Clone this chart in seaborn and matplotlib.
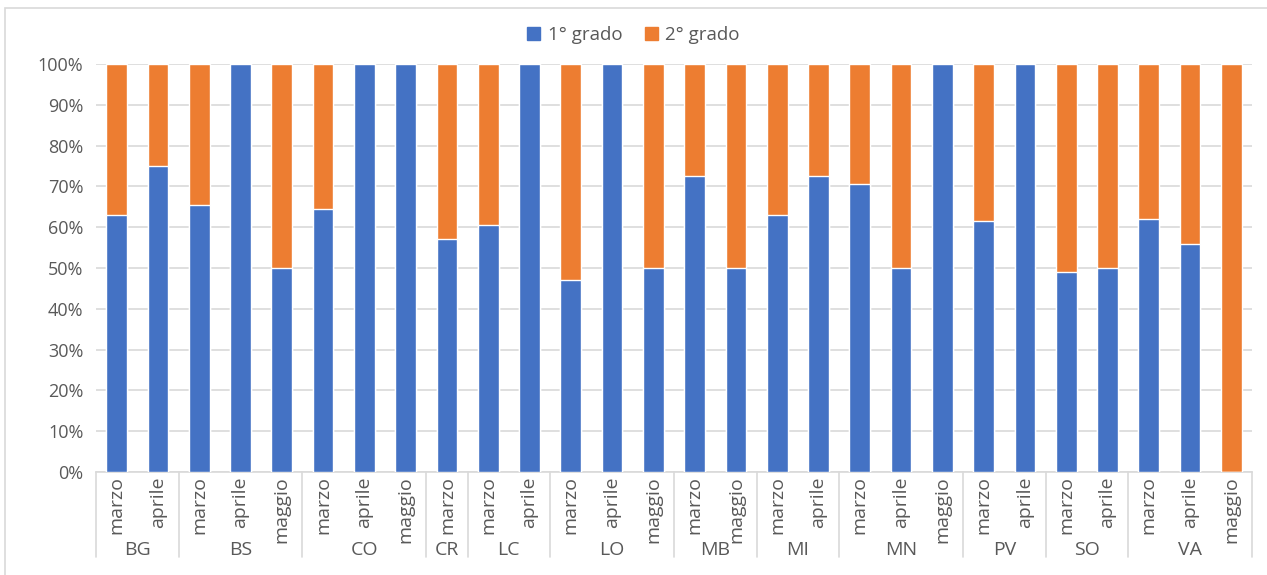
import matplotlib
matplotlib.use("Agg")
import matplotlib.pyplot as plt
import matplotlib.transforms as mtransforms
from matplotlib.patches import Rectangle, Patch
from matplotlib.ticker import PercentFormatter
import seaborn as sns
import pandas as pd
import numpy as np

groups = ["BG", "BS", "CO", "CR", "LC", "LO", "MB", "MI", "MN", "PV", "SO", "VA"]
months = [
    ["marzo", "aprile"],
    ["marzo", "aprile", "maggio"],
    ["marzo", "aprile", "maggio"],
    ["marzo"],
    ["marzo", "aprile"],
    ["marzo", "aprile", "maggio"],
    ["marzo", "maggio"],
    ["marzo", "aprile"],
    ["marzo", "aprile", "maggio"],
    ["marzo", "aprile"],
    ["marzo", "aprile"],
    ["marzo", "aprile", "maggio"],
]
grado1 = [63, 75, 65.5, 100, 50, 64.5, 100, 100, 57, 60.5, 100, 47, 100, 50,
          72.5, 50, 63, 72.5, 70.5, 50, 100, 61.5, 100, 49, 50, 62, 56, 0]
grado2 = [37, 25, 34.5, 0, 50, 35.5, 0, 0, 43, 39.5, 0, 53, 0, 50,
          27.5, 50, 37, 27.5, 29.5, 50, 0, 38.5, 0, 51, 50, 38, 44, 100]

blue = "#4472C4"
orange = "#ED7D31"
txt = "#595959"
grid = "#D9D9D9"

rows = []
for g, ms in zip(groups, months):
    for m in ms:
        rows.append((g, m))
df = pd.DataFrame(rows, columns=["group", "month"])
df["key"] = [f"{g}_{m}" for g, m in rows]
df["g1"] = np.array(grado1) / 100.0
df["g2"] = np.array(grado2) / 100.0
df["total"] = df["g1"] + df["g2"]
order = list(df["key"])

sns.set_theme(style="white")
plt.rcParams["font.family"] = ["Open Sans", "DejaVu Sans"]

fig = plt.figure(figsize=(12.67, 5.75), dpi=100)
ax = fig.add_axes([96 / 1267, 1 - 472 / 575, (1252 - 96) / 1267, (472 - 64) / 575])

sns.barplot(data=df, x="key", y="total", order=order, color=orange,
            width=0.5, saturation=1, ax=ax, zorder=3, legend=False)
sns.barplot(data=df, x="key", y="g1", order=order, color=blue,
            width=0.5, saturation=1, ax=ax, zorder=4, legend=False)
if ax.get_legend() is not None:
    ax.get_legend().remove()

ax.set_ylim(0, 1)
ax.set_xlim(-0.5, len(order) - 0.5)
ax.yaxis.set_major_locator(matplotlib.ticker.MultipleLocator(0.1))
ax.yaxis.set_major_formatter(PercentFormatter(1.0, decimals=0))
ax.grid(axis="y", color=grid, linewidth=1.2, zorder=0)
ax.set_axisbelow(True)
for s in ["top", "right", "left"]:
    ax.spines[s].set_visible(False)
ax.spines["bottom"].set_color(grid)
ax.spines["bottom"].set_linewidth(1.2)
ax.set_xlabel("")
ax.set_ylabel("")
ax.tick_params(axis="y", length=0, labelsize=13, labelcolor=txt, pad=9)
ax.set_xticks(range(len(order)))
ax.set_xticklabels(df["month"], rotation=90, fontsize=14, color=txt)
ax.tick_params(axis="x", length=0, pad=3)

trans = mtransforms.blended_transform_factory(ax.transData, ax.transAxes)
axh = 472 - 64
y_sep_bottom = -(557 - 472) / axh
y_group = -(550 - 472) / axh
start = 0
bounds = [-0.5]
for g, ms in zip(groups, months):
    n = len(ms)
    center = start + (n - 1) / 2
    ax.text(center, y_group, g, transform=trans, ha="center", va="center",
            fontsize=14, color=txt)
    start += n
    bounds.append(start - 0.5)
for b in bounds:
    ax.plot([b, b], [0, y_sep_bottom], transform=trans, color=grid,
            linewidth=1.2, clip_on=False)

handles = [Patch(color=blue, label="1° grado"), Patch(color=orange, label="2° grado")]
fig.legend(handles=handles, loc="center", bbox_to_anchor=(0.5, 1 - 35 / 575),
           ncol=2, frameon=False, fontsize=13.5, labelcolor=txt,
           handlelength=0.7, handleheight=0.7, handletextpad=0.4, columnspacing=1.2)

fig.patches.append(Rectangle((5 / 1267, -0.01), 1.1, 1 - 8 / 575 + 0.01,
                             transform=fig.transFigure, fill=False,
                             edgecolor="#D9D9D9", linewidth=1.2))

fig.savefig("out.png", dpi=100)
